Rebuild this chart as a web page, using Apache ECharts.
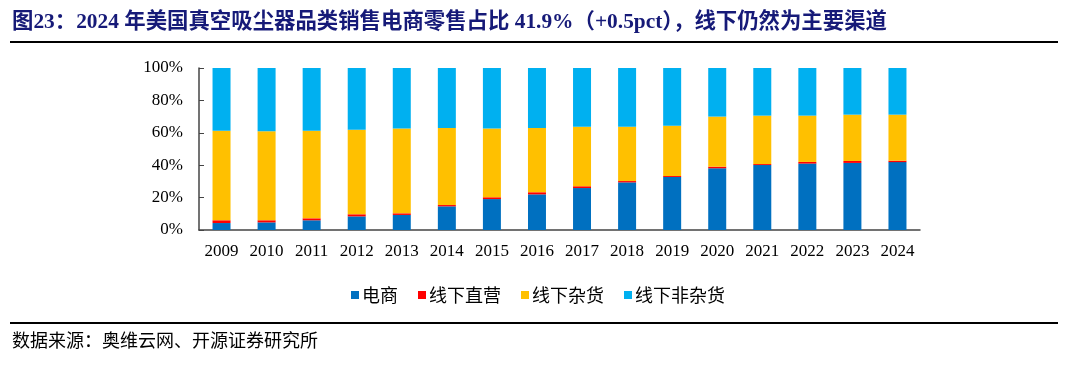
<!DOCTYPE html>
<html><head><meta charset="utf-8">
<script src="https://cdn.jsdelivr.net/npm/echarts@6/dist/echarts.min.js"></script>
<style>html,body{margin:0;padding:0;background:#fff}#c{width:1068px;height:366px}</style>
</head><body><div id="c"></div>
<script>
const categories = ['2009','2010','2011','2012','2013','2014','2015','2016','2017','2018','2019','2020','2021','2022','2023','2024'];
const ecommerce = [4.3,4.7,6.0,8.4,9.3,14.6,19.1,22.0,25.9,29.4,32.7,38.1,40.1,41.0,41.4,41.9];
const offlineDirect = [1.7,1.3,1.2,1.3,1.0,0.8,1.1,1.3,1.1,0.8,0.6,1.0,0.6,1.0,1.2,0.9];
const offlineGrocery = [55.3,54.9,54.1,52.2,52.3,47.6,42.4,39.7,36.8,33.6,31.1,30.9,29.9,28.6,28.6,28.4];
const offlineNonGrocery = [38.7,39.1,38.7,38.1,37.4,37.0,37.4,37.0,36.2,36.2,35.6,30.0,29.4,29.4,28.8,28.8];
const seriesNames = ['电商','线下直营','线下杂货','线下非杂货'];
const colors = ['#0070C0','#FF0000','#FFC000','#00B0F0'];
const yTicks = ['0%','20%','40%','60%','80%','100%'];

const chart = echarts.init(document.getElementById('c'), null, {renderer:'canvas'});
const dataSets = [ecommerce, offlineDirect, offlineGrocery, offlineNonGrocery];
const cjk = '"Noto Sans CJK SC", sans-serif';
const serif = '"Liberation Serif", "Times New Roman", serif';
chart.setOption({
  animation:false,
  color: colors,
  grid:{left:199,right:148,top:68,bottom:136},
  legend:{
    data: seriesNames, left:346, top:281, itemWidth:8, itemHeight:8, itemGap:20,
    icon:'rect',
    textStyle:{fontFamily:cjk, fontSize:18, color:'#000', padding:[0,0,0,-2]}
  },
  xAxis:{
    type:'category', data:categories,
    axisLine:{lineStyle:{color:'#444', width:1.5}},
    axisTick:{inside:true, length:5, lineStyle:{color:'#444'}},
    axisLabel:{fontFamily:serif, fontSize:17, color:'#000', margin:13}
  },
  yAxis:{
    type:'value', min:0, max:100, interval:20,
    axisLine:{show:true, lineStyle:{color:'#444', width:1.5}},
    axisTick:{show:true, inside:true, length:5, lineStyle:{color:'#444'}},
    splitLine:{show:false},
    axisLabel:{fontFamily:serif, fontSize:17, color:'#000', margin:16,
      formatter:(v)=>yTicks[Math.round(v/20)]}
  },
  series: seriesNames.map((n,i)=>({
    name:n, type:'bar', stack:'total', barWidth:18, data:dataSets[i],
    itemStyle:{color:colors[i]}
  })),
  graphic:[
    {type:'text', left:12, top:12, style:{text:'图23：2024 年美国真空吸尘器品类销售电商零售占比 41.9%（+0.5pct），线下仍然为主要渠道',
      font:'bold 21.4px "Liberation Serif", "Noto Sans CJK SC", serif', fill:'#161a78'}},
    {type:'rect', shape:{x:10,y:41,width:1048,height:2}, style:{fill:'#000'}},
    {type:'rect', shape:{x:10,y:322,width:1048,height:2}, style:{fill:'#000'}},
    {type:'text', left:12, top:331, style:{text:'数据来源：奥维云网、开源证券研究所',
      font:'18px "Noto Sans CJK SC", sans-serif', fill:'#000'}}
  ]
});
</script></body></html>
